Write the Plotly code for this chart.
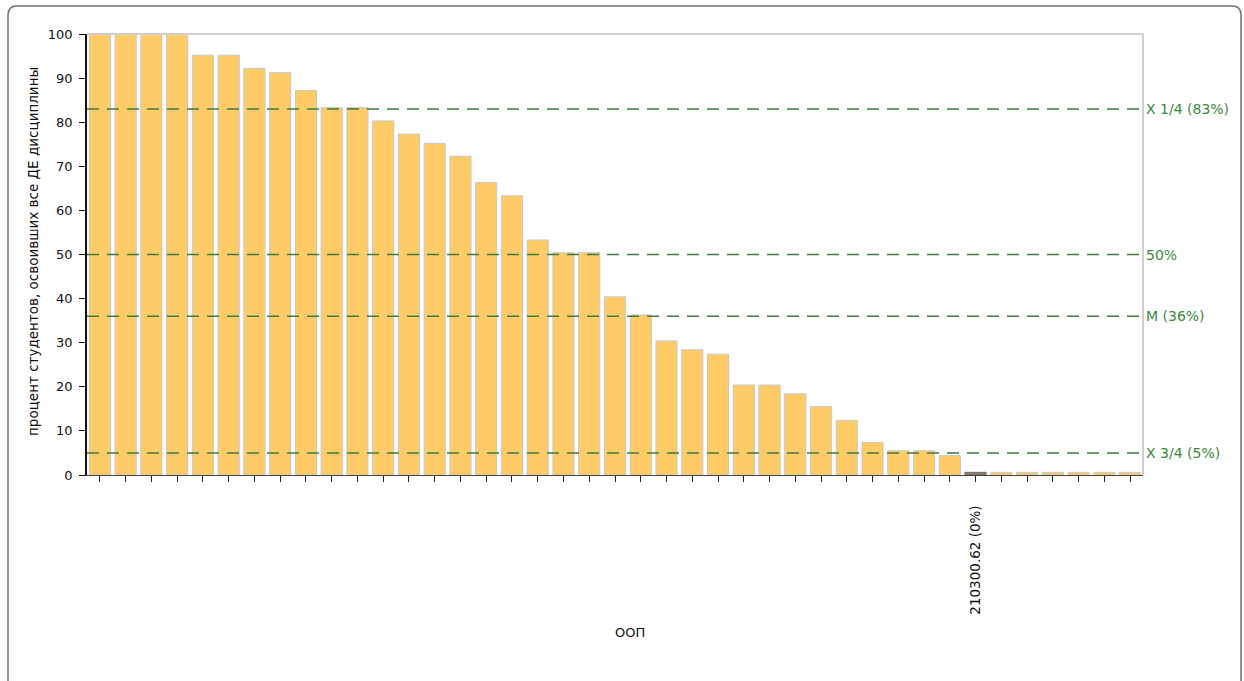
import plotly.graph_objects as go

# ---- data ----
positions = list(range(1, 42))
values = [100, 100, 100, 100, 95.2, 95.2, 92.2, 91.2, 87.2, 83.3, 83.3, 80.3, 77.3, 75.2,
          72.3, 66.3, 63.3, 53.3, 50.4, 50.4, 40.4, 36.3, 30.4, 28.4, 27.4, 20.4, 20.4,
          18.4, 15.5, 12.4, 7.4, 5.5, 5.5, 4.4, 0, 0, 0, 0, 0, 0, 0]
tick_labels = [""] * 41
tick_labels[34] = "210300.62 (0%)"
highlight_index = 34
ref_values = [83, 50, 36, 5]
ref_labels = ["X 1/4 (83%)", "50%", "M (36%)", "X 3/4 (5%)"]
y_title = "процент студентов, освоивших все ДЕ дисциплины"
x_title = "ООП"

# ---- style ----
W, H = 1244, 681
L, R, T, B = 87, 101, 34, 206
PW, PH = W - L - R, H - T - B
FONT = "DejaVu Sans"
BAR_FILL = "#FFCB66"
BAR_LINE = "#C8C8C8"
HL_FILL = "#8A8272"
GREEN_LINE = "#3F7A3F"
GREEN_TEXT = "#3A8A3A"
MIN_VISIBLE = 0.6  # zero-value bars drawn as a thin strip, as in the reference

def px_x(p):
    return (p - L) / PW

def px_y(p):
    return (T + PH - p) / PH

heights = [max(v, MIN_VISIBLE) for v in values]
fills = [HL_FILL if i == highlight_index else BAR_FILL for i in range(len(values))]
lines = ["#6E685C" if i == highlight_index else BAR_LINE for i in range(len(values))]

fig = go.Figure()
fig.add_trace(go.Bar(
    x=positions, y=heights,
    customdata=values,
    hovertemplate="%{customdata}%<extra></extra>",
    marker=dict(color=fills, line=dict(color=lines, width=1)),
    width=0.82,
))

shapes = []
for v in ref_values:
    shapes.append(dict(type="line", xref="paper", yref="y", x0=0, x1=1, y0=v, y1=v,
                       line=dict(color=GREEN_LINE, width=1.5, dash="12px,8px"), layer="above"))
shapes.append(dict(type="line", xref="paper", yref="paper", x0=0, x1=1, y0=1, y1=1,
                   line=dict(color="#CFCFCF", width=2)))
shapes.append(dict(type="line", xref="paper", yref="paper", x0=1, x1=1, y0=0, y1=1,
                   line=dict(color="#CFCFCF", width=2)))
x0, x1 = px_x(8), px_x(1241)
y0, y1 = px_y(6), px_y(700)
rx, ry = 9 / PW, 9 / PH
path = (f"M {x0 + rx} {y0} L {x1 - rx} {y0} Q {x1} {y0} {x1} {y0 - ry} "
        f"L {x1} {y1} L {x0} {y1} L {x0} {y0 - ry} Q {x0} {y0} {x0 + rx} {y0} Z")
shapes.append(dict(type="path", xref="paper", yref="paper", path=path,
                   line=dict(color="#707070", width=1.5)))

annotations = []
for v, t in zip(ref_values, ref_labels):
    annotations.append(dict(xref="paper", yref="y", x=1, y=v, text=t, showarrow=False,
                            xanchor="left", yanchor="middle", xshift=1,
                            font=dict(family=FONT, size=14, color=GREEN_TEXT)))
annotations.append(dict(xref="paper", yref="paper", x=px_x(33), y=px_y(252), text=y_title,
                        textangle=-90, showarrow=False, xanchor="center", yanchor="middle",
                        font=dict(family=FONT, size=13.5, color="#111")))
annotations.append(dict(xref="paper", yref="paper", x=px_x(630), y=px_y(632), text=x_title,
                        showarrow=False, xanchor="center", yanchor="middle",
                        font=dict(family=FONT, size=13, color="#111")))

fig.update_layout(
    width=W, height=H,
    margin=dict(l=L, r=R, t=T, b=B, pad=0),
    paper_bgcolor="white", plot_bgcolor="white",
    showlegend=False,
    bargap=0.18,
    shapes=shapes,
    annotations=annotations,
    font=dict(family=FONT, size=13, color="#111"),
    xaxis=dict(range=[0.5, 41.5], tickvals=positions, ticktext=tick_labels, tickangle=-90,
               showline=True, linecolor="#444", linewidth=1, ticks="outside", ticklen=6,
               tickcolor="#222", showgrid=False, zeroline=False, ticklabelstandoff=18,
               tickfont=dict(family=FONT, size=13.5, color="#111"), fixedrange=True),
    yaxis=dict(range=[0, 100], dtick=10, showline=True, linecolor="#111", linewidth=1.5,
               ticks="outside", ticklen=6, tickcolor="#111", showgrid=False, zeroline=False,
               ticklabelstandoff=4, tickfont=dict(family=FONT, size=13, color="#111"),
               fixedrange=True),
)

fig.write_html("out.html", config={"displayModeBar": False},
               post_script="document.body.style.margin='0';document.body.style.overflow='hidden';")
